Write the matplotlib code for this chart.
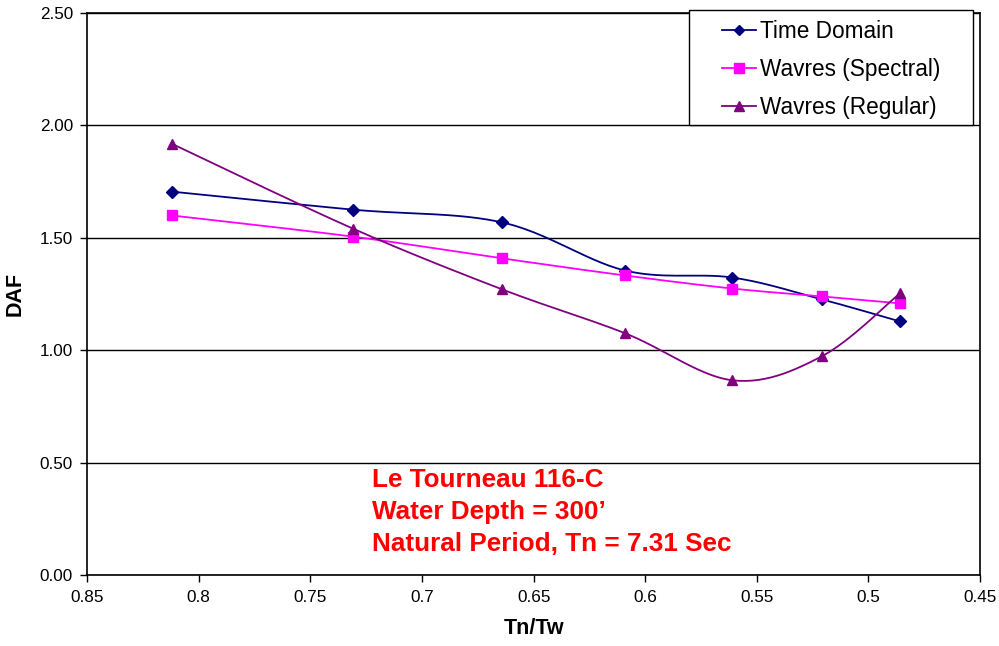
import numpy as np
import matplotlib.pyplot as plt
from matplotlib.patches import Rectangle

plt.rcParams['font.family'] = ['Liberation Sans', 'DejaVu Sans']

# Tn/Tw ratios (same for every series)
tn_tw = [0.812, 0.731, 0.664, 0.609, 0.561, 0.521, 0.486]

time_domain = [1.705, 1.625, 1.568, 1.354, 1.323, 1.226, 1.128]
spectral = [1.599, 1.505, 1.408, 1.332, 1.274, 1.239, 1.208]
regular = [1.918, 1.541, 1.270, 1.075, 0.866, 0.972, 1.252]

series_names = ['Time Domain', 'Wavres (Spectral)', 'Wavres (Regular)']
note_lines = ['Le Tourneau 116-C', 'Water Depth = 300\u2019', 'Natural Period, Tn = 7.31 Sec']


def smooth(x, y, n=30):
    """Excel-like smoothed line (Catmull-Rom through the points)."""
    x = np.asarray(x, float)
    y = np.asarray(y, float)
    px = np.concatenate([[x[0]], x, [x[-1]]])
    py = np.concatenate([[y[0]], y, [y[-1]]])
    xs, ys = [], []
    t = np.linspace(0, 1, n)
    for i in range(1, len(px) - 2):
        p0, p1, p2, p3 = px[i - 1], px[i], px[i + 1], px[i + 2]
        q0, q1, q2, q3 = py[i - 1], py[i], py[i + 1], py[i + 2]
        c1x, c2x = p1 + (p2 - p0) / 6, p2 - (p3 - p1) / 6
        c1y, c2y = q1 + (q2 - q0) / 6, q2 - (q3 - q1) / 6
        b = [(1 - t) ** 3, 3 * (1 - t) ** 2 * t, 3 * (1 - t) * t ** 2, t ** 3]
        xs.append(b[0] * p1 + b[1] * c1x + b[2] * c2x + b[3] * p2)
        ys.append(b[0] * q1 + b[1] * c1y + b[2] * c2y + b[3] * q2)
    return np.concatenate(xs), np.concatenate(ys)


fig = plt.figure(figsize=(9.99, 6.46), dpi=100)
ax = fig.add_axes([0.0871, 0.110, 0.894, 0.870])

styles = [('#000080', 'D', 6), ('#FF00FF', 's', 7), ('#800080', '^', 7.5)]
handles = []
for vals, name, (col, mk, ms) in zip([time_domain, spectral, regular], series_names, styles):
    sx, sy = smooth(tn_tw, vals)
    ax.plot(sx, sy, color=col, lw=1.3, zorder=3)
    ax.plot(tn_tw, vals, linestyle='none', marker=mk, ms=ms, color=col, zorder=4)
    h, = ax.plot([], [], color=col, lw=1.3, marker=mk, ms=ms - 0.5, label=name)
    handles.append(h)

ax.set_xlim(0.85, 0.45)
ax.set_ylim(0, 2.5)
ax.set_xticks(np.arange(0.85, 0.449, -0.05))
ax.set_xticklabels(['0.85', '0.8', '0.75', '0.7', '0.65', '0.6', '0.55', '0.5', '0.45'])
ax.set_yticks(np.arange(0, 2.51, 0.5))
ax.set_yticklabels(['%.2f' % v for v in np.arange(0, 2.51, 0.5)])
ax.tick_params(labelsize=12.3, direction='out', length=5, width=1, color='black')
ax.tick_params(axis='x', pad=6)
ax.tick_params(axis='y', pad=5)
ax.yaxis.grid(True, color='black', lw=1)
ax.set_axisbelow(True)
for side in ['left', 'bottom', 'right', 'top']:
    ax.spines[side].set_color('black')
    ax.spines[side].set_linewidth(1.2)

ax.set_xlabel('Tn/Tw', fontsize=15.5, fontweight='bold', labelpad=9)
ax.set_ylabel('DAF', fontsize=15.5, fontweight='bold', labelpad=10)

ax.text(0.7225, 0.474, '\n'.join(note_lines), color='red', fontsize=18.8,
        fontweight='bold', va='top', ha='left', linespacing=1.41)

# legend frame drawn separately so its padding can match the original
ax.add_patch(Rectangle((0.674, 0.8007), 0.318, 0.2046, transform=ax.transAxes,
                       facecolor='white', edgecolor='black', lw=1.0,
                       clip_on=False, zorder=5))
leg = ax.legend(handles=handles, loc='upper left', bbox_to_anchor=(0.711, 0.988),
                fontsize=16.3, frameon=False, borderpad=0, borderaxespad=0,
                handlelength=1.5, handletextpad=0.2, labelspacing=0.66)
leg.set_zorder(6)

fig.savefig('out.png', dpi=100)
